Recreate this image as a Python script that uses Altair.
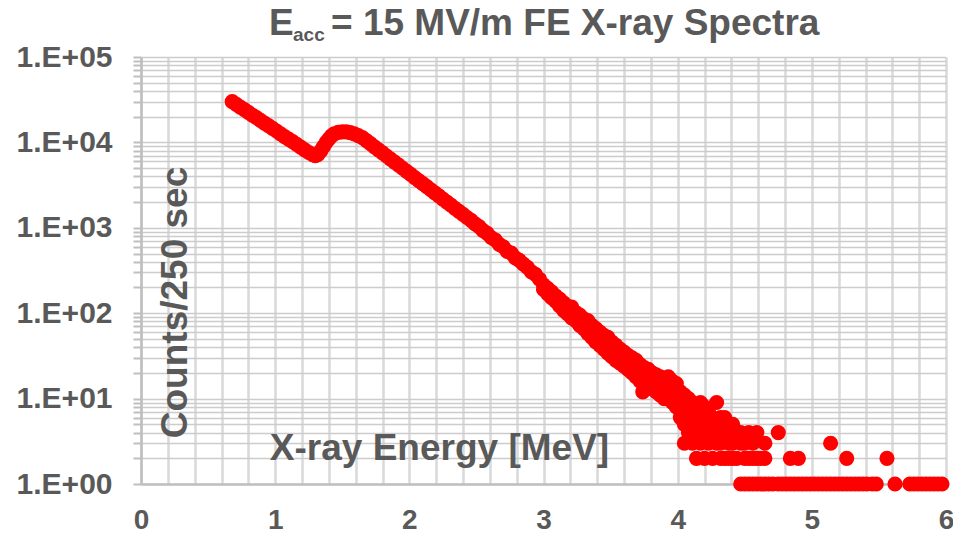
import altair as alt
import pandas as pd

# ---------------- data ----------------
energy_main = [0.68, 0.71, 0.74, 0.77, 0.80, 0.83, 0.86, 0.89, 0.92, 0.95, 0.98, 1.01, 1.04, 1.07,
               1.10, 1.13, 1.16, 1.19, 1.22, 1.25, 1.28,
               1.30, 1.32, 1.34, 1.36, 1.38, 1.40, 1.42, 1.44,
               1.47, 1.50, 1.53, 1.56, 1.59, 1.62, 1.65, 1.68, 1.71, 1.74, 1.77, 1.80, 1.83, 1.86,
               1.89, 1.92, 1.95, 1.98, 2.01, 2.04, 2.07, 2.10, 2.13, 2.16, 2.19, 2.22, 2.25, 2.28,
               2.31, 2.34, 2.37, 2.40, 2.43, 2.46, 2.49, 2.52, 2.55, 2.58, 2.61, 2.64, 2.67, 2.70,
               2.73, 2.76, 2.79, 2.82, 2.85, 2.88, 2.91, 2.94, 2.97]
counts_main = [30000, 27900, 25900, 24200, 22500, 20900, 19500, 18100, 16800, 15700, 14600, 13600, 12600, 11700,
               10900, 10200, 9460, 8790, 8180, 7620, 7180,
               7000, 7240, 7940, 8910, 10000, 10960, 11900, 12600,
               13100, 13300, 13300, 13000, 12600, 12000, 11350, 10500, 9660, 8890, 8180, 7530, 6930, 6380,
               5870, 5410, 4980, 4580, 4220, 3880, 3570, 3290, 3030, 2790, 2560, 2360, 2170, 2000,
               1840, 1690, 1560, 1440, 1320, 1220, 1110, 1030, 925, 860, 770, 720, 640, 600,
               530, 505, 445, 415, 375, 345, 305, 285, 250]

# noisy tail: energy -> counts observed in the bins around that energy
tail_points = [
    (3.00, [215, 190]), (3.03, [195, 170]), (3.06, [178, 152]), (3.09, [160, 138]),
    (3.12, [146, 122]), (3.15, [132, 108]), (3.18, [120, 98]), (3.21, [118, 88]),
    (3.24, [102, 82]), (3.27, [95, 72]), (3.30, [86, 66]), (3.33, [82, 58]),
    (3.36, [72, 52, 62]), (3.39, [66, 46]), (3.42, [60, 42, 52]), (3.45, [55, 38]),
    (3.48, [52, 34, 44]), (3.51, [46, 31]), (3.54, [42, 28, 36]), (3.57, [38, 26]),
    (3.60, [35, 24, 30]), (3.63, [32, 22]), (3.66, [30, 20, 26]), (3.69, [28, 18]),
    (3.72, [25, 16, 21]), (3.74, [12]), (3.75, [23, 15]), (3.78, [22, 14, 18]),
    (3.81, [20, 13]), (3.84, [19, 12, 16]), (3.87, [18, 11]), (3.90, [17, 10, 14]),
    (3.93, [18, 10]), (3.96, [16, 9, 12]), (3.99, [15, 8]), (4.02, [12, 6, 9]),
    (4.05, [11, 5, 3]), (4.08, [10, 7, 4]), (4.11, [9, 5, 3]), (4.14, [8, 6, 2]),
    (4.17, [9, 4, 3]), (4.20, [8, 5, 2]), (4.23, [7, 4, 3]), (4.26, [6, 4, 2]),
    (4.29, [9, 5, 3]), (4.32, [6, 3, 2]), (4.35, [6, 4, 2]), (4.38, [5, 3, 2]),
    (4.41, [5, 3, 2]), (4.44, [4, 2]), (4.47, [4, 3, 1]), (4.50, [3, 2, 1]),
    (4.53, [4, 2, 1]), (4.56, [3, 2, 1]), (4.59, [4, 2, 1]), (4.62, [2, 1]),
    (4.65, [3, 2, 1]), (4.68, [1]), (4.71, [1]), (4.75, [4, 1]), (4.78, [1]),
    (4.81, [1]), (4.84, [2, 1]), (4.87, [1]), (4.90, [2, 1]), (4.93, [1]),
    (4.96, [1]), (4.99, [1]), (5.02, [1]), (5.05, [1]), (5.08, [1]), (5.11, [1]),
    (5.14, [3, 1]), (5.17, [1]), (5.20, [1]), (5.23, [1]), (5.26, [2, 1]), (5.29, [1]),
    (5.32, [1]), (5.35, [1]), (5.38, [1]), (5.41, [1]), (5.45, [1]), (5.48, [1]),
    (5.56, [2]), (5.62, [1]), (5.73, [1]), (5.76, [1]), (5.79, [1]), (5.82, [1]),
    (5.85, [1]), (5.88, [1]), (5.91, [1]), (5.94, [1]), (5.97, [1]),
]

x_label_values = [0, 1, 2, 3, 4, 5, 6]
x_grid_values = [0, 0.2, 0.4, 0.6, 0.8, 1, 1.2, 1.4, 1.6, 1.8, 2, 2.2, 2.4, 2.6, 2.8, 3,
                 3.2, 3.4, 3.6, 3.8, 4, 4.2, 4.4, 4.6, 4.8, 5, 5.2, 5.4, 5.6, 5.8, 6]
y_decades = [1, 10, 100, 1000, 10000, 100000]
y_decade_labels = ["1.E+00", "1.E+01", "1.E+02", "1.E+03", "1.E+04", "1.E+05"]
y_minor_multipliers = [2, 3, 4, 5, 6, 7, 8, 9]

title_main = "E"
title_sub = "acc"
title_rest = "= 15 MV/m FE X-ray Spectra"
x_title = "X-ray Energy [MeV]"
y_title = "Counts/250 sec"

# ---------------- build ----------------
energy = list(energy_main)
counts = list(counts_main)
for e, cs in tail_points:
    for c in cs:
        energy.append(e)
        counts.append(c)
df = pd.DataFrame({"energy": energy, "counts": counts})

y_grid_values = []
for d in y_decades:
    y_grid_values.append(d)
    if d < y_decades[-1]:
        y_grid_values += [d * m for m in y_minor_multipliers]

FONT = "Liberation Sans, Arial, sans-serif"
GREY = "#595959"

x_label_expr = ("abs(datum.value - round(datum.value)) < 0.001 ? "
                "format(round(datum.value), 'd') : ''")
y_map = ", ".join(f"'{v}': '{l}'" for v, l in zip(y_decades, y_decade_labels))
y_label_expr = f"({{{y_map}}})[format(datum.value, 'd')] || ''"

W, H = 805, 427

points = alt.Chart(df).mark_circle(size=230, color="#ff0000", opacity=1).encode(
    x=alt.X("energy:Q",
            scale=alt.Scale(domain=[0, 6], nice=False, zero=False),
            axis=alt.Axis(values=x_grid_values, labelExpr=x_label_expr,
                          title=x_title, titleX=298, titleY=-25,
                          titleAlign="center", titleBaseline="alphabetic",
                          titleFont=FONT, titleFontSize=37, titleFontWeight="bold",
                          titleColor=GREY,
                          labelFont=FONT, labelFontSize=28, labelFontWeight="bold",
                          labelColor=GREY, labelPadding=22, labelFlush=False,
                          ticks=False, domainColor="#bfbfbf", domainWidth=2.5,
                          grid=True, gridColor="#d9d9d9", gridWidth=2.5)),
    y=alt.Y("counts:Q",
            scale=alt.Scale(type="log", domain=[1, 100000], nice=False),
            axis=alt.Axis(values=y_grid_values, labelExpr=y_label_expr,
                          title=y_title, titleX=45, titleY=245, titleAngle=270,
                          titleAlign="center", titleBaseline="alphabetic",
                          titleFont=FONT, titleFontSize=37, titleFontWeight="bold",
                          titleColor=GREY,
                          labelFont=FONT, labelFontSize=30, labelFontWeight="bold",
                          labelColor=GREY, labelPadding=21, labelFlush=False,
                          labelOverlap=False,
                          ticks=True, tickSize=8, tickColor="#bfbfbf", tickWidth=2,
                          domainColor="#bfbfbf", domainWidth=2.5,
                          grid=True, gridColor="#cccccc", gridWidth=1.5)),
)

tdf = pd.DataFrame({"k": [0]})
t_main = alt.Chart(tdf).mark_text(
    text=title_main, font=FONT, fontSize=37, fontWeight="bold", color=GREY,
    align="left", baseline="alphabetic").encode(x=alt.value(128), y=alt.value(-22))
t_sub = alt.Chart(tdf).mark_text(
    text=title_sub, font=FONT, fontSize=19, fontWeight="bold", color=GREY,
    align="left", baseline="alphabetic").encode(x=alt.value(152), y=alt.value(-16))
t_rest = alt.Chart(tdf).mark_text(
    text=title_rest, font=FONT, fontSize=37, fontWeight="bold", color=GREY,
    align="left", baseline="alphabetic").encode(x=alt.value(190), y=alt.value(-22))

chart = alt.layer(points, t_main, t_sub, t_rest).properties(
    width=W, height=H,
    autosize=alt.AutoSizeParams(type="none"),
    padding={"left": 133, "top": 49, "right": 7, "bottom": 55},
).configure_view(strokeWidth=0)

chart.save("out.html", embed_options={"renderer": "svg", "actions": False})
